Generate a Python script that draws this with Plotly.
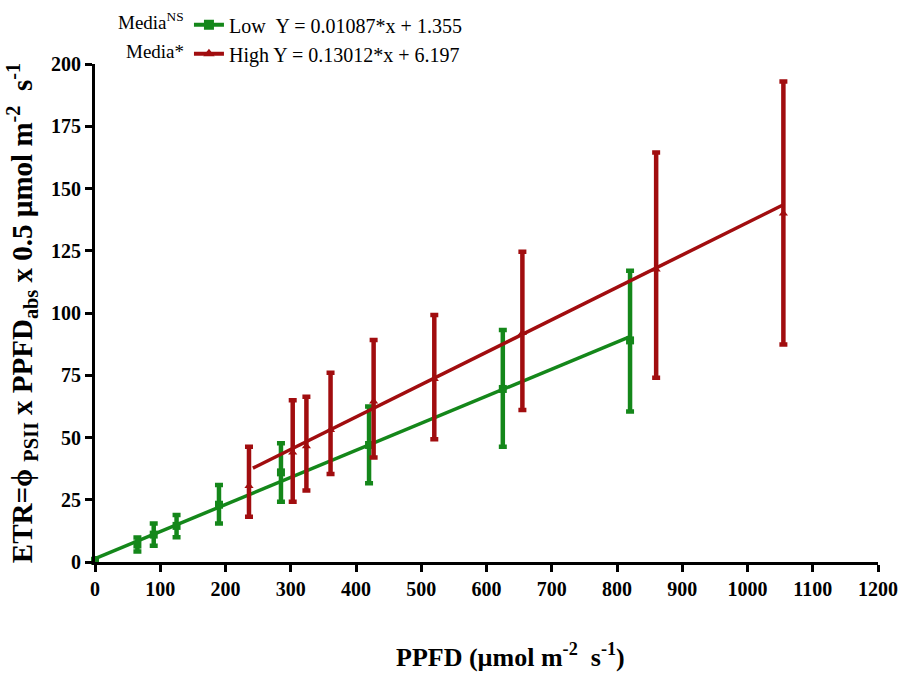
import plotly.graph_objects as go

# ---- data ----
low_x = [0, 65, 90, 125, 190, 285, 420, 625, 820]
low_y = [0.5, 7, 11, 14.5, 23, 36, 47, 69.5, 89]
low_hi = [1.5, 9.8, 15.5, 18.9, 30.9, 47.7, 62.4, 93.2, 117]
low_lo = [0, 4.2, 6.5, 9.9, 15.5, 24.2, 31.6, 46.3, 60.4]

high_x = [236, 303, 324, 361, 427, 520, 655, 860, 1055]
high_y = [30.5, 44, 46.5, 53, 64.5, 73.5, 92, 117.5, 140]
high_hi = [46.3, 65, 66.4, 76, 89.2, 99.2, 124.6, 164.5, 193]
high_lo = [18.2, 24.2, 28.7, 35.3, 42, 49.3, 61, 74, 87.3]

# regression fits (slope, intercept) and x-range of the fitted line
low_fit = (0.1087, 1.355)
low_fit_range = [0, 820]
high_fit = (0.13012, 6.197)
high_fit_range = [242, 1055]

low_label = "Low&nbsp;&nbsp;Y = 0.01087*x + 1.355"
high_label = "High Y = 0.13012*x + 6.197"

x_ticks = list(range(0, 1201, 100))
y_ticks = list(range(0, 201, 25))

GREEN = "#14871a"
RED = "#a10d0f"
SERIF = "Liberation Serif"

fig = go.Figure()

def add_series(xs, ys, hi, lo, fit, frange, color, symbol, name):
    plus = [h - y for h, y in zip(hi, ys)]
    minus = [y - l for y, l in zip(ys, lo)]
    fx = frange
    fy = [fit[0] * v + fit[1] for v in fx]
    fig.add_trace(go.Scatter(x=fx, y=fy, mode="lines",
                             line=dict(color=color, width=3.5),
                             showlegend=False, cliponaxis=False))
    fig.add_trace(go.Scatter(
        x=xs, y=ys, mode="markers",
        marker=dict(symbol=symbol, size=8, color=color),
        error_y=dict(type="data", symmetric=False, array=plus, arrayminus=minus,
                     color=color, thickness=4.5, width=4),
        showlegend=False, cliponaxis=False))
    fig.add_trace(go.Scatter(
        x=[None], y=[None], mode="lines+markers", name=name,
        line=dict(color=color, width=4),
        marker=dict(symbol=symbol, size=10, color=color)))

add_series(low_x, low_y, low_hi, low_lo, low_fit, low_fit_range, GREEN, "square", low_label)
add_series(high_x, high_y, high_hi, high_lo, high_fit, high_fit_range, RED, "triangle-up", high_label)

axis_common = dict(
    showline=True, linecolor="black", linewidth=3,
    ticks="outside", ticklen=7, tickwidth=3, tickcolor="black",
    showgrid=False, zeroline=False, automargin=False,
    tickfont=dict(family=SERIF, size=20, color="black", weight="bold"),
)

fig.update_xaxes(range=[0, 1200], tickvals=x_ticks, **axis_common)
fig.update_yaxes(range=[0, 200], tickvals=y_ticks,
                 title=dict(text="ETR=ϕ <sub>PSII</sub> x PPFD<sub>abs</sub> x 0.5 µmol m<sup>-2</sup>  s<sup>-1</sup>",
                            font=dict(family=SERIF, size=29, color="black", weight="bold"),
                            standoff=10),
                 **axis_common)

fig.update_layout(
    width=900, height=677,
    margin=dict(l=95, r=22, t=64, b=115, autoexpand=False),
    plot_bgcolor="white", paper_bgcolor="white",
    legend=dict(x=0.12, y=1.118, xanchor="left", yanchor="top",
                font=dict(family=SERIF, size=20, color="black"),
                bgcolor="rgba(0,0,0,0)", tracegroupgap=0, itemwidth=30),
    annotations=[
        dict(text="Media<sup>NS</sup>", x=0.116, y=1.086, xref="paper", yref="paper",
             xanchor="right", yanchor="middle", showarrow=False,
             font=dict(family=SERIF, size=19, color="black")),
        dict(text="Media*", x=0.116, y=1.026, xref="paper", yref="paper",
             xanchor="right", yanchor="middle", showarrow=False,
             font=dict(family=SERIF, size=19, color="black")),
        dict(text="<b>PPFD (µmol m<sup>-2</sup>  s<sup>-1</sup>)</b>", x=0.531, y=-0.187,
             xref="paper", yref="paper", xanchor="center", yanchor="middle",
             showarrow=False,
             font=dict(family=SERIF, size=26, color="black")),
    ],
)

fig.write_html("out.html")
